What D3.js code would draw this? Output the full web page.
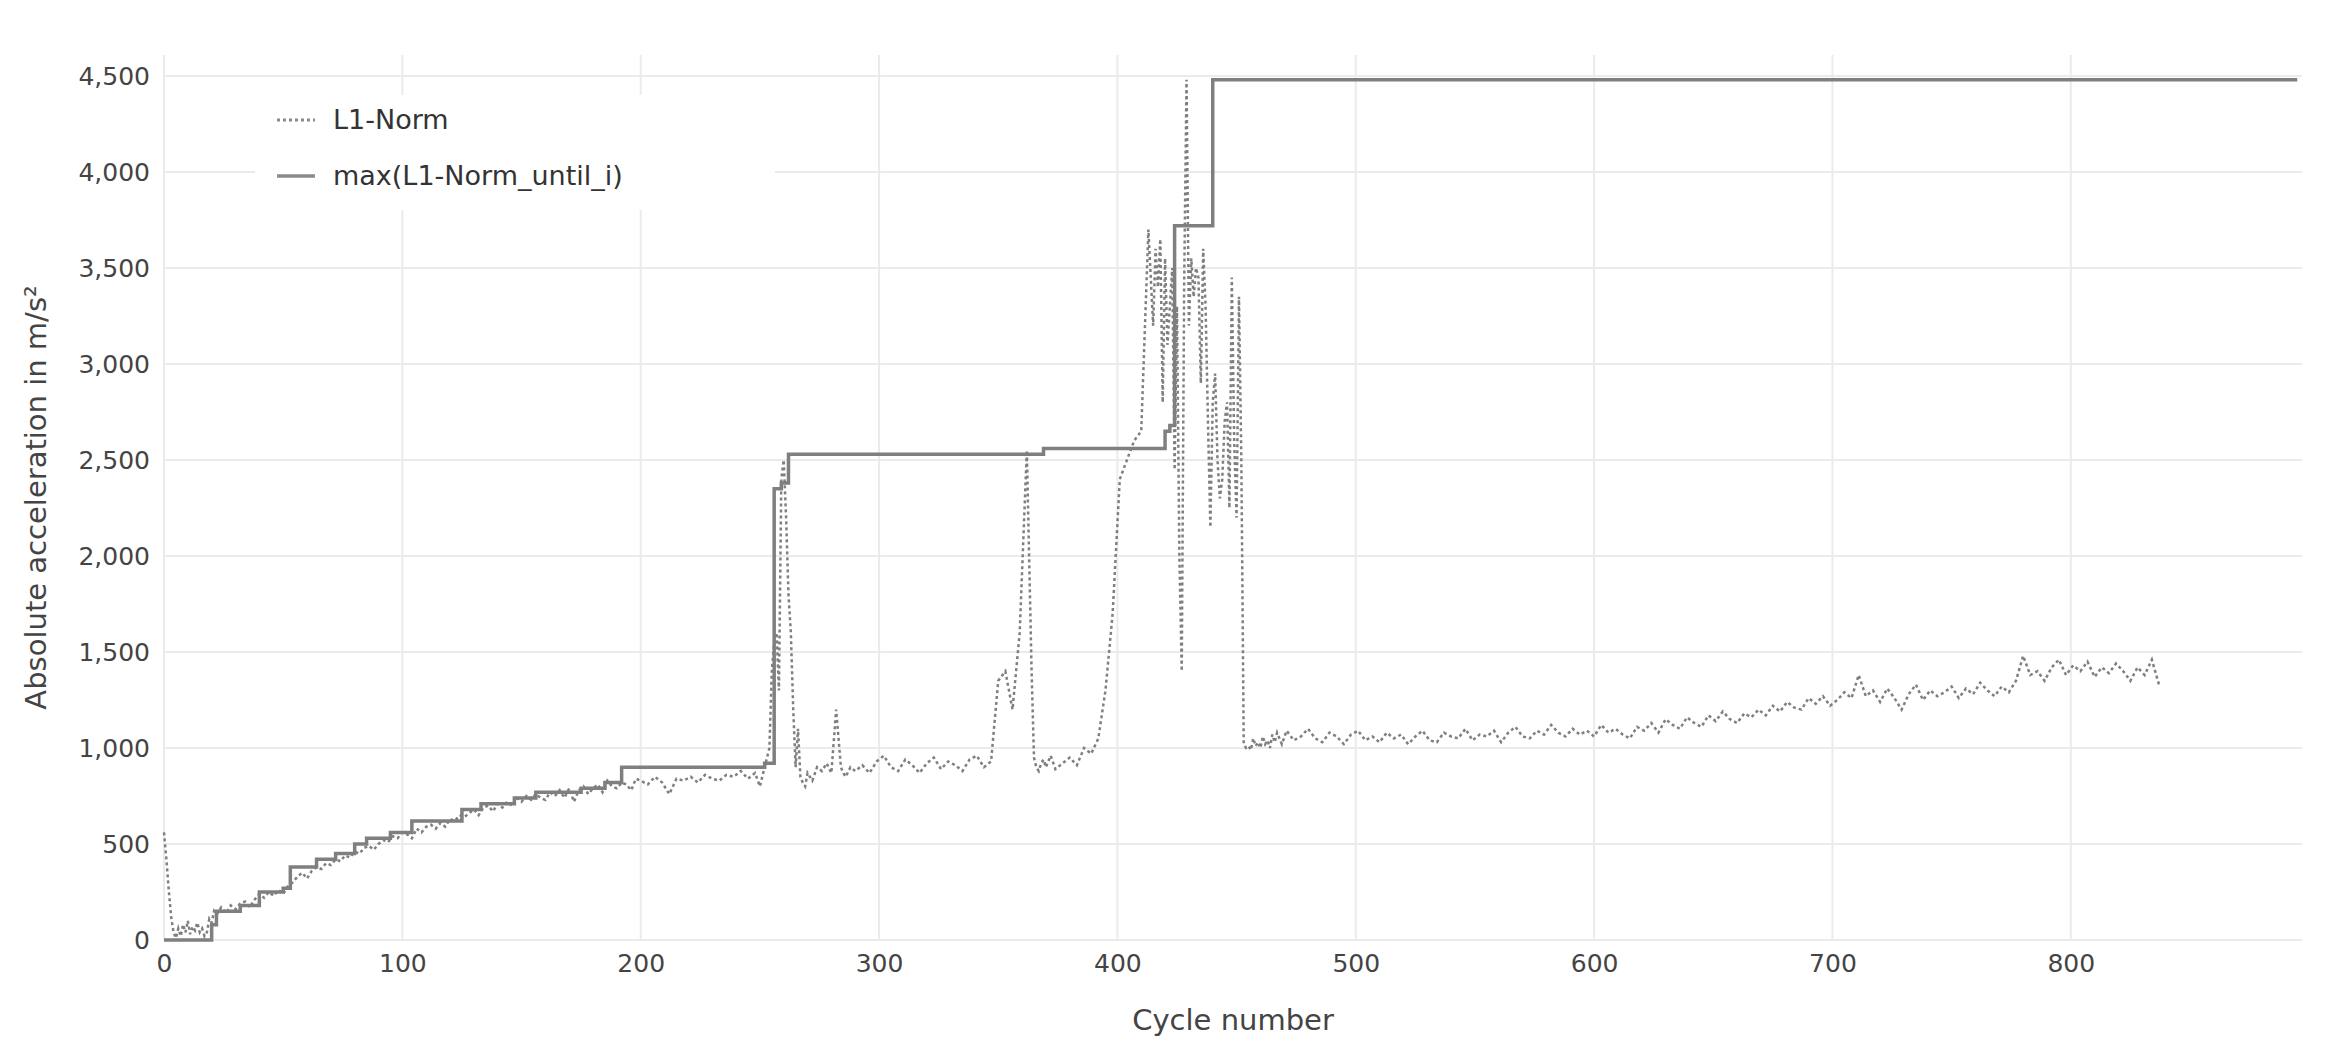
<!DOCTYPE html>
<html>
<head>
<meta charset="utf-8">
<script src="https://cdn.jsdelivr.net/npm/d3@7"></script>
<style>
  body { margin: 0; background: #fff; }
  text { font-family: "DejaVu Sans", Verdana, sans-serif; }
</style>
</head>
<body>
<div id="container"></div>
<script>
let w = 2336;
let h = 1062;
let padLeft = 164, padRight = 2302, padTop = 55, padBottom = 940;

let xTicks = [0, 100, 200, 300, 400, 500, 600, 700, 800];
let yTicks = [0, 500, 1000, 1500, 2000, 2500, 3000, 3500, 4000, 4500];

// L1-Norm: cycle numbers and values
let l1Cycles = [0,1,2,3,4,5,6,7,8,9,10,11,12,13,14,15,16,17,18,19,20,21,22,24,26,28,30,32,34,36,38,40,42,44,46,48,50,52,54,56,58,60,62,64,66,68,70,72,74,76,78,80,82,84,86,88,90,92,94,96,98,100,102,104,106,108,110,112,114,116,118,120,122,124,126,128,130,132,134,136,138,140,142,144,146,148,150,152,154,156,158,160,162,164,166,168,170,172,174,176,178,180,182,184,186,188,190,192,194,196,198,200,203,206,209,212,215,218,221,224,227,230,233,236,239,242,245,248,250,252,254,255,256,257,258,259,260,261,262,263,264,265,266,267,268,269,270,272,274,276,278,280,282,284,285,286,288,290,293,296,299,302,305,308,311,314,317,320,323,326,329,332,335,338,341,344,347,350,353,356,359,362,364,365,366,367,368,369,370,371,372,374,377,380,383,386,389,392,395,398,401,404,407,410,413,415,416,417,418,419,420,421,422,423,424,425,426,427,428,429,430,431,432,433,434,435,436,437,438,439,440,441,442,443,444,445,446,447,448,449,450,451,452,453,454,455,456,457,458,459,460,461,462,463,464,465,466,467,468,469,471,474,477,480,483,486,489,492,495,498,501,504,507,510,513,516,519,522,525,528,531,534,537,540,543,546,549,552,555,558,561,564,567,570,573,576,579,582,585,588,591,594,597,600,603,606,609,612,615,618,621,624,627,630,633,636,639,642,645,648,651,654,657,660,663,666,669,672,675,678,681,684,687,690,693,696,699,702,705,708,711,714,717,720,723,726,729,732,735,738,741,744,747,750,753,756,759,762,765,768,771,774,777,780,783,786,789,792,795,798,801,804,807,810,813,816,819,822,825,828,831,834,837,840,843,846,849,852,855,858,861,864,867,870,873,876,879,882,885,888,891,894];
let l1Values = [560,420,260,120,40,10,60,20,80,40,100,30,70,50,90,40,60,20,40,110,90,150,130,170,140,180,160,190,200,170,210,240,220,250,230,260,240,280,300,330,350,320,360,380,370,400,390,420,410,440,430,460,450,480,490,470,500,520,510,540,530,560,550,530,580,560,590,600,580,610,590,630,620,650,640,660,680,650,690,700,670,710,690,720,700,740,720,750,730,760,740,730,770,750,780,740,790,720,780,800,760,790,810,770,830,800,790,820,810,780,840,830,810,850,820,760,840,830,850,820,860,840,830,860,850,880,840,870,800,900,1000,1400,1550,1600,1300,2400,2500,2200,1800,1600,1200,900,1100,850,820,800,870,830,900,880,920,870,1200,900,870,850,900,880,910,870,930,960,900,880,940,910,870,920,950,890,930,910,880,940,960,900,930,1350,1400,1200,1600,2550,1400,950,900,880,920,940,900,930,960,890,920,950,910,1000,970,1050,1300,1700,2400,2500,2600,2650,3700,3200,3600,3400,3650,2800,3550,3100,3300,3500,2450,3300,2000,1400,3400,4480,3200,3550,3350,3500,3450,2900,3600,3300,2700,2150,2800,2950,2500,2300,2400,2700,2800,2250,3450,2600,2200,3350,2500,1020,1000,1010,990,1050,1010,1030,1000,1060,1020,1040,1000,1070,1030,1080,1050,1020,1090,1040,1060,1100,1050,1030,1080,1060,1020,1070,1090,1040,1060,1030,1080,1050,1070,1020,1060,1090,1040,1030,1080,1060,1050,1100,1040,1070,1060,1090,1030,1080,1110,1060,1050,1090,1070,1120,1080,1060,1100,1070,1090,1060,1120,1080,1100,1070,1050,1110,1090,1130,1080,1150,1120,1100,1160,1130,1110,1170,1140,1190,1150,1130,1180,1160,1200,1170,1220,1190,1240,1210,1200,1260,1230,1270,1220,1250,1290,1260,1380,1270,1300,1240,1310,1260,1200,1280,1330,1250,1300,1270,1290,1320,1260,1310,1280,1340,1300,1270,1320,1290,1350,1480,1380,1400,1350,1420,1460,1380,1430,1400,1450,1370,1420,1390,1440,1400,1350,1420,1380,1460,1330];

// max(L1-Norm_until_i): step changes (cycle where value starts)
let maxCycles = [0,18,20,22,32,40,50,53,64,72,80,85,95,104,125,133,147,156,175,185,192,252,256,259,262,369,420,422,424,440,895];
let maxValues = [0,0,80,150,180,250,270,380,420,450,500,530,560,620,680,710,740,770,790,820,900,920,2350,2380,2530,2560,2650,2680,3720,4480,4480];

let l1Data = l1Cycles.map((c, i) => ({ x: c, y: l1Values[i] })).filter(d => d.y !== undefined);
let maxData = maxCycles.map((c, i) => ({ x: c, y: maxValues[i] }));

let viz = d3.select("#container").append("svg")
  .attr("width", w).attr("height", h);

let xScale = d3.scaleLinear().domain([0, 897]).range([padLeft, padRight]);
let yScale = d3.scaleLinear().domain([0, 4500]).range([padBottom, 76]);

// grid
viz.append("g").selectAll("line").data(xTicks).enter().append("line")
  .attr("x1", d => xScale(d)).attr("x2", d => xScale(d))
  .attr("y1", padTop).attr("y2", padBottom)
  .attr("stroke", "#ebebeb").attr("stroke-width", 2);
viz.append("g").selectAll("line").data(yTicks).enter().append("line")
  .attr("x1", padLeft).attr("x2", padRight)
  .attr("y1", d => yScale(d)).attr("y2", d => yScale(d))
  .attr("stroke", "#ebebeb").attr("stroke-width", 2);

// axes (labels only)
let xAxis = d3.axisBottom(xScale).tickValues(xTicks).tickSize(0).tickPadding(14);
let xg = viz.append("g").attr("transform", "translate(0," + padBottom + ")").call(xAxis);
let yAxis = d3.axisLeft(yScale).tickValues(yTicks).tickSize(0).tickPadding(14);
let yg = viz.append("g").attr("transform", "translate(" + padLeft + ",0)").call(yAxis);
[xg, yg].forEach(g => {
  g.select(".domain").remove();
  g.selectAll("text").attr("font-size", 25).attr("fill", "#444")
    .attr("font-family", "DejaVu Sans, sans-serif");
});

let lineMaker = d3.line().x(d => xScale(d.x)).y(d => yScale(d.y));
let stepMaker = d3.line().x(d => xScale(d.x)).y(d => yScale(d.y)).curve(d3.curveStepAfter);

viz.append("path").datum(l1Data).attr("d", lineMaker)
  .attr("fill", "none").attr("stroke", "#7f7f7f")
  .attr("stroke-width", 2.5).attr("stroke-dasharray", "3,3");
viz.append("path").datum(maxData).attr("d", stepMaker)
  .attr("fill", "none").attr("stroke", "#7f7f7f").attr("stroke-width", 3.5);

// axis titles
viz.append("text").attr("x", (padLeft + padRight) / 2).attr("y", 1030)
  .attr("text-anchor", "middle").attr("font-size", 29).attr("fill", "#444")
  .text("Cycle number");
viz.append("text").attr("transform", "translate(46," + ((padTop + padBottom) / 2) + ") rotate(-90)")
  .attr("text-anchor", "middle").attr("font-size", 29).attr("fill", "#444")
  .text("Absolute acceleration in m/s²");

// legend
let legend = viz.append("g").attr("transform", "translate(265,0)");
legend.append("rect").attr("x", -10).attr("y", 95).attr("width", 520).attr("height", 115)
  .attr("fill", "#fff");
legend.append("line").attr("x1", 12).attr("x2", 50).attr("y1", 120).attr("y2", 120)
  .attr("stroke", "#8a8a8a").attr("stroke-width", 3).attr("stroke-dasharray", "3,3");
legend.append("line").attr("x1", 12).attr("x2", 50).attr("y1", 176).attr("y2", 176)
  .attr("stroke", "#8a8a8a").attr("stroke-width", 3.5);
legend.append("text").attr("x", 68).attr("y", 129).attr("font-size", 27).attr("fill", "#333")
  .text("L1-Norm");
legend.append("text").attr("x", 68).attr("y", 185).attr("font-size", 27).attr("fill", "#333")
  .text("max(L1-Norm_until_i)");
</script>
</body>
</html>
